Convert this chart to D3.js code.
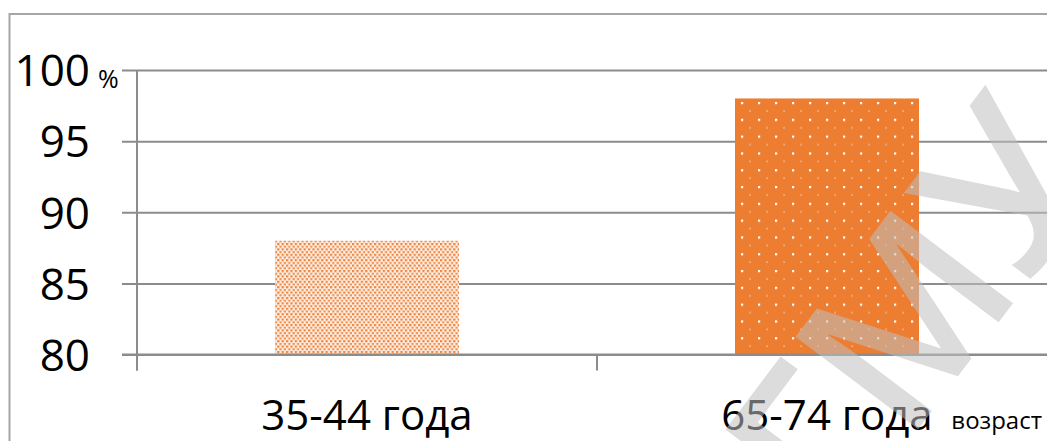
<!DOCTYPE html>
<html>
<head>
<meta charset="utf-8">
<script src="https://cdn.jsdelivr.net/npm/d3@7"></script>
<style>
  html, body { margin: 0; padding: 0; background: #fff; }
  svg { display: block; }
</style>
</head>
<body>
<svg id="chart" width="1047" height="441"></svg>
<script>
const categories = ["35-44 года", "65-74 года"];
const values = [88, 98];
const yTicks = [80, 85, 90, 95, 100];
const yUnit = "%";
const xUnit = "возраст";
const watermark = "БГМУ";

const W = 1047, H = 441;
const svg = d3.select("#chart");
const FONT = "'Open Sans', 'Noto Sans', sans-serif";

const x = d3.scaleBand().domain(categories).range([137, 1057]).paddingInner(0.6).paddingOuter(0.3);
const y = d3.scaleLinear().domain([80, 100]).range([354.5, 70]);

// patterns
const defs = svg.append("defs");
const p1 = defs.append("pattern").attr("id", "fineDots").attr("patternUnits", "userSpaceOnUse")
  .attr("width", 4.4).attr("height", 5.4);
p1.append("rect").attr("width", 4.4).attr("height", 5.4).attr("fill", "#fcefe5");
p1.append("rect").attr("x", 0).attr("y", 0).attr("width", 2.2).attr("height", 2.1).attr("fill", "#ee8138");
p1.append("rect").attr("x", 2.2).attr("y", 2.7).attr("width", 2.2).attr("height", 2.1).attr("fill", "#f09050");

const p2 = defs.append("pattern").attr("id", "whiteDots").attr("patternUnits", "userSpaceOnUse")
  .attr("width", 17).attr("height", 16.8).attr("x", 741).attr("y", 102);
p2.append("rect").attr("width", 17).attr("height", 16.8).attr("fill", "#ED7D31");
p2.append("rect").attr("x", 0).attr("y", 0).attr("width", 2.2).attr("height", 2.2).attr("fill", "#ffffff");
p2.append("rect").attr("x", 8.5).attr("y", 8.4).attr("width", 1.2).attr("height", 1.2).attr("fill", "#fbe3d3");

const patterns = ["url(#fineDots)", "url(#whiteDots)"];

// outer border
svg.append("rect").attr("x", 9.5).attr("y", 14).attr("width", W + 20).attr("height", H + 20)
  .attr("fill", "none").attr("stroke", "#a6a6a6").attr("stroke-width", 2);

// gridlines via axis
const yAxis = d3.axisLeft(y).tickValues(yTicks).tickSize(-(W - 137 + 5)).tickFormat(d => d);
const gy = svg.append("g").attr("transform", "translate(137,0)").call(yAxis);
gy.select(".domain").remove();
gy.selectAll(".tick line").attr("x1", -15).attr("stroke", "#8c8c8c").attr("stroke-width", 2);
gy.selectAll(".tick text").attr("x", -47).attr("dy", "0.36em")
  .attr("font-family", FONT).attr("font-size", 44).attr("fill", "#000").attr("text-anchor", "end");

// y axis line
svg.append("line").attr("x1", 137).attr("x2", 137).attr("y1", y(100)).attr("y2", y(80) + 16)
  .attr("stroke", "#8c8c8c").attr("stroke-width", 2);

// unit %
svg.append("text").attr("x", 98).attr("y", y(100) + 18).text(yUnit)
  .attr("font-family", FONT).attr("font-size", 25).attr("fill", "#000");

// bars
svg.selectAll("rect.bar").data(values).enter().append("rect").attr("class", "bar")
  .attr("x", (d, i) => x(categories[i]))
  .attr("width", x.bandwidth())
  .attr("y", d => y(d))
  .attr("height", d => y(80) - y(d))
  .attr("fill", (d, i) => patterns[i]);

// x axis
const xAxis = d3.axisBottom(x).tickSize(0).tickFormat(d => d);
const gx = svg.append("g").attr("transform", `translate(0,${y(80)})`).call(xAxis);
gx.select(".domain").remove();
gx.selectAll(".tick text").attr("y", 75).attr("dy", 0)
  .attr("font-family", FONT).attr("font-size", 42).attr("fill", "#000");
// category boundary ticks
const bounds = [137, x(categories[1]) - x.step() * 0.3, 1057];
svg.selectAll("line.xb").data(bounds).enter().append("line").attr("class", "xb")
  .attr("x1", d => d).attr("x2", d => d).attr("y1", y(80)).attr("y2", y(80) + 16)
  .attr("stroke", "#8c8c8c").attr("stroke-width", 2);
svg.append("line").attr("x1", 122).attr("x2", W).attr("y1", y(80)).attr("y2", y(80))
  .attr("stroke", "#8c8c8c").attr("stroke-width", 2);

// x unit
svg.append("text").attr("x", 1042).attr("y", 429).attr("text-anchor", "end").text(xUnit)
  .attr("font-family", FONT).attr("font-size", 24).attr("fill", "#000");

// watermark
const wm = svg.append("text").text(watermark)
  .attr("font-family", FONT).attr("font-weight", 600).attr("font-size", 215)
  .attr("fill", "#bfbfbf").attr("fill-opacity", 0.55);
const bNode = svg.append("text").text(watermark[0]).attr("font-family", FONT).attr("font-weight", 600).attr("font-size", 215).attr("opacity", 0);
const bw = bNode.node().getComputedTextLength();
bNode.remove();
const deg = -53;
const ang = deg * Math.PI / 180;
const gx0 = 836, gy0 = 538;
const sx = gx0 - bw * Math.cos(ang), sy = gy0 - bw * Math.sin(ang);
wm.attr("transform", `translate(${sx},${sy}) rotate(${deg})`);
</script>
</body>
</html>
